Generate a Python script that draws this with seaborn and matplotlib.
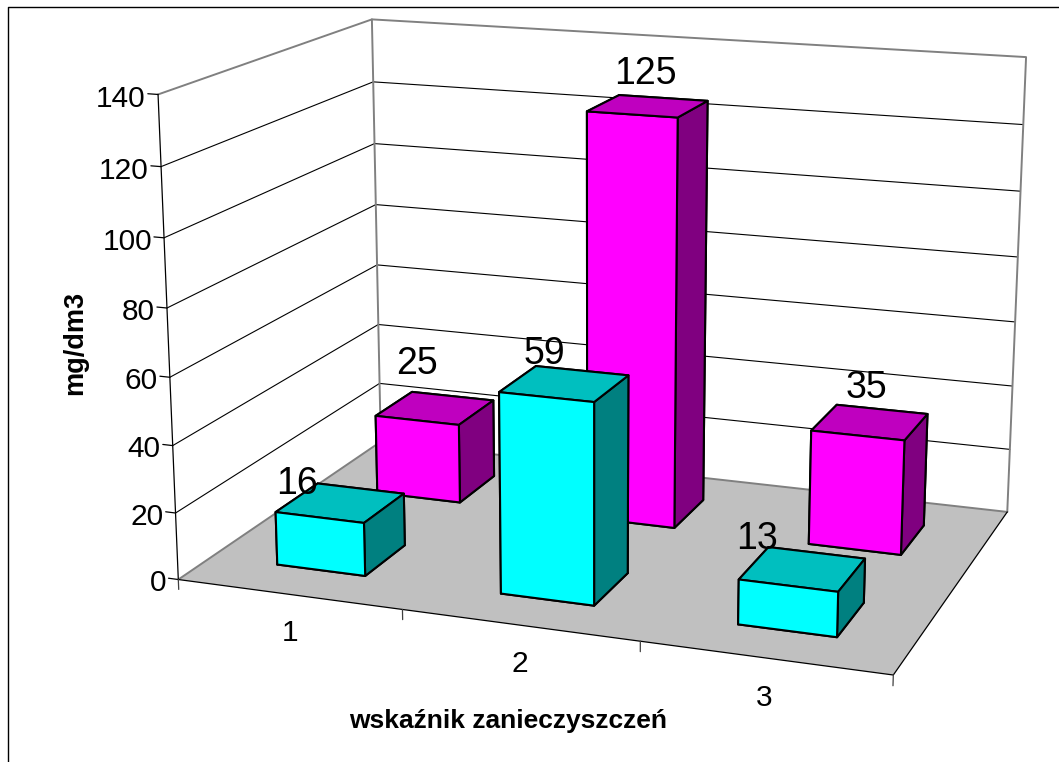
import numpy as np
import matplotlib
matplotlib.use('Agg')
import matplotlib.pyplot as plt
import seaborn as sns
from matplotlib.lines import Line2D
from mpl_toolkits.mplot3d.art3d import Poly3DCollection

categories = ['1', '2', '3']
front_values = [16, 59, 13]
back_values = [25, 125, 35]
z_ticks = [0, 20, 40, 60, 80, 100, 120, 140]
x_title = 'wskaźnik zanieczyszczeń'
z_title = 'mg/dm3'

W, H = 1059, 762
X_MAX, Y_MAX, Z_MAX = 3, 2, 140

# where the corners of the chart box sit in the picture (x, y, z) -> (px, py)
box_world = [(0, 0, 0), (3, 0, 0), (3, 2, 0), (0, 2, 0), (0, 0, 140), (0, 2, 140), (3, 2, 140)]
box_pixels = [(178, 579), (893.7, 675), (1007, 512), (381, 442), (158, 95), (372, 19), (1026, 57)]

# label shift from the bar centre: (along x, along z)
front_shift = [(-0.20, 4.3), (-0.085, 8), (-0.19, 7)]
back_shift = [(-0.085, 13.7), (-0.01, 9.5), (-0.02, 10.3)]


def fit_camera():
  scale = np.array([X_MAX, Y_MAX, Z_MAX, 1.0])
  rows = []
  for (x, y, z), (px, py) in zip(box_world, box_pixels):
    p = np.array([x, y, z, 1.0]) / scale
    u, v = px / 1000, (H - py) / 1000
    rows.append(np.r_[p, 0, 0, 0, 0, -u * p])
    rows.append(np.r_[0, 0, 0, 0, p, -v * p])
  P = np.linalg.svd(np.array(rows))[2][-1].reshape(3, 4)
  P[:2] *= 1000
  P = P / scale
  if P[2] @ np.array([0, 0, 0, 1.0]) < 0:
    P = -P
  return P / (P[2] @ np.array([0, 0, 0, 1.0]))


camera = fit_camera()

sns.set_theme(style='white')
plt.rcParams['font.family'] = ['Liberation Sans', 'DejaVu Sans']

fig = plt.figure(figsize=(W / 100, H / 100), dpi=100, facecolor='white')
ax = fig.add_axes([0, 0, 1, 1], projection='3d', computed_zorder=False)
ax.set_axis_off()
ax.set_xticks([])
ax.set_yticks([])
ax.set_zticks([])
ax.apply_aspect = lambda position=None: None


def get_proj():
  # picture pixels -> the axes' own 2d data coords
  to_data = np.linalg.inv(ax.transData.get_matrix())
  M = np.zeros((4, 4))
  M[0] = to_data[0, 0] * camera[0] + to_data[0, 1] * camera[1] + to_data[0, 2] * camera[2]
  M[1] = to_data[1, 0] * camera[0] + to_data[1, 1] * camera[1] + to_data[1, 2] * camera[2]
  M[2] = [0, 0, 0, -1]
  M[3] = camera[2]
  return M


ax.get_proj = get_proj


def put_text(x, y, z, s, **kw):
  # plain figure text placed at a 3d chart position
  u, v, w = camera @ np.array([x, y, z, 1.0])
  fig.text(u / w / W, v / w / H, s, color='black', zorder=5, **kw)


# walls and floor
walls = [[(0, 0, 0), (0, 2, 0), (0, 2, 140), (0, 0, 140)],
         [(0, 2, 0), (3, 2, 0), (3, 2, 140), (0, 2, 140)]]
ax.add_collection3d(Poly3DCollection(walls, facecolors='white', edgecolors='none', zorder=1))
floor = [[(0, 0, 0), (3, 0, 0), (3, 2, 0), (0, 2, 0)]]
ax.add_collection3d(Poly3DCollection(floor, facecolors='#C0C0C0', edgecolors='none', zorder=2))

for z in z_ticks[1:-1]:
  ax.plot([0, 0, 3], [0, 2, 2], [z, z, z], color='black', lw=0.8, zorder=3)

grey = dict(color='#808080', lw=1.4, zorder=4)
ax.plot([0, 0, 3, 3], [0, 2, 2, 2], [140, 140, 140, 0], **grey)
ax.plot([0, 0, 3], [0, 2, 2], [0, 0, 0], **grey)
ax.plot([0, 0], [2, 2], [0, 140], **grey)

black = dict(color='black', lw=0.9, zorder=5)
ax.plot([0, 0], [0, 0], [0, 140], **black)
ax.plot([0, 3, 3], [0, 0, 2], [0, 0, 0], **black)
for z in z_ticks:
  ax.plot([-0.045, 0], [0, 0], [z, z], **black)
  put_text(-0.055, 0, z - 1.5, str(z), ha='right', va='center', fontsize=21.5)
for i in range(len(categories) + 1):
  ax.plot([i, i], [0, 0], [0, -3], color='#404040', lw=0.9, zorder=5)
for i, name in enumerate(categories):
  put_text(i + 0.5, 0, -11.5, name, ha='center', va='center', fontsize=21.5)


def draw_row(values, row, front, top, side, shifts, first_zorder):
  for i, v in enumerate(values):
    # faces: bottom, top, front, back, left, right
    faces = [front, top, front, front, front, side]
    ax.bar3d(i + 0.3, row + 0.3, 0, 0.4, 0.4, v, color=faces, shade=False,
             edgecolor='black', linewidth=1.5, zorder=first_zorder + i)
    dx, dz = shifts[i]
    put_text(i + 0.5 + dx, row + 0.5, v + dz, str(v), ha='center', va='center', fontsize=27)


draw_row(back_values, 1, '#FF00FF', '#BF00BF', '#800080', back_shift, 6)
draw_row(front_values, 0, '#00FFFF', '#00BFBF', '#008080', front_shift, 10)

fig.text(508 / W, 1 - 721 / H, x_title, ha='center', va='center', fontsize=19,
         fontweight='bold', color='black')
fig.text(75 / W, 1 - 343 / H, z_title, ha='center', va='center', rotation=90, fontsize=19.5,
         fontweight='bold', color='black')

fig.add_artist(Line2D([8 / W, 8 / W, 1], [0, 1 - 7 / H, 1 - 7 / H], color='black', lw=1.0))

fig.savefig('out.png', dpi=100)
